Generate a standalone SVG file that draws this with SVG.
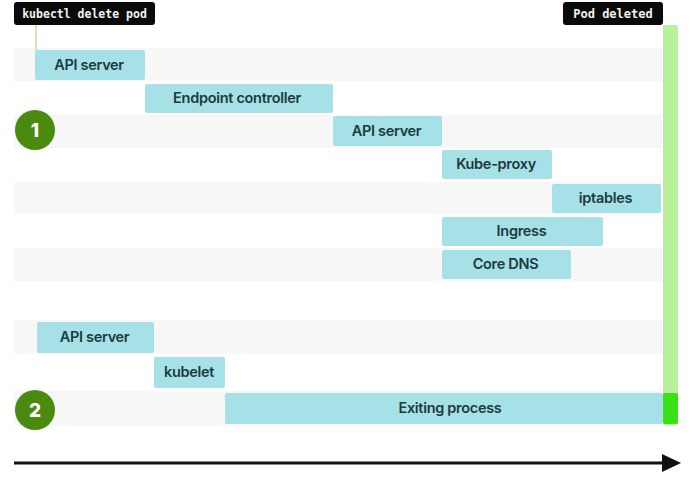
<svg xmlns="http://www.w3.org/2000/svg" width="697" height="480" viewBox="0 0 697 480">
<style>
.band{fill:#f7f7f7}
.box{fill:#a6e1e8}
.lbl{font-family:Inter,"Noto Sans","Liberation Sans",sans-serif;font-weight:600;font-size:14.5px;fill:#1d3a3e;text-anchor:middle;letter-spacing:-0.3px}
.tag{fill:#0a0a0a}
.mono{font-family:"DejaVu Sans Mono","Liberation Mono",monospace;font-weight:bold;font-size:11.5px;fill:#f2f2f2;text-anchor:middle}
.num{fill:#4a8a0f}
.numt{font-family:Inter,"Noto Sans","Liberation Sans",sans-serif;font-weight:800;font-size:19px;fill:#ffffff;text-anchor:middle}
</style>
<rect width="697" height="480" fill="#ffffff"/>
<g id="bands">
<rect class="band" x="14" y="48" width="648" height="33"/>
<rect class="band" x="14" y="115" width="648" height="33"/>
<rect class="band" x="14" y="182" width="648" height="32"/>
<rect class="band" x="14" y="248" width="648" height="33"/>
<rect class="band" x="14" y="320" width="648" height="34"/>
<rect class="band" x="14" y="391" width="648" height="35"/>
</g>
<g id="pod-deleted-bar">
<rect x="663" y="25" width="15" height="400" rx="2" fill="#b5f29b"/>
<line x1="663.5" y1="26" x2="663.5" y2="393" stroke="#e6d6a6" stroke-width="1"/>
<rect x="663" y="393" width="15" height="31" rx="2" fill="#3be016"/>
</g>
<g id="connectors">
<line x1="36" y1="25" x2="36" y2="50" stroke="#e2c487" stroke-width="1.2"/>
<line x1="14" y1="463" x2="666" y2="463" stroke="#111111" stroke-width="3"/>
<polygon points="662,454 681,463 662,472" fill="#111111"/>
</g>
<g id="kubectl-delete-pod">
<rect class="tag" x="14" y="2" width="141" height="23" rx="3"/>
<text class="mono" x="84.5" y="17.5">kubectl delete pod</text>
</g>
<g id="pod-deleted">
<rect class="tag" x="563" y="2" width="100" height="23" rx="3"/>
<text class="mono" x="613" y="17.5" style="font-size:12px">Pod deleted</text>
</g>
<g id="api-server-1">
<rect class="box" x="35" y="50" width="110" height="30" rx="2"/>
<text class="lbl" x="89" y="69.5">API server</text>
</g>
<g id="endpoint-controller">
<rect class="box" x="145" y="84" width="188" height="29" rx="2"/>
<text class="lbl" x="237" y="103">Endpoint controller</text>
</g>
<g id="api-server-2">
<rect class="box" x="333" y="116" width="109" height="30" rx="2"/>
<text class="lbl" x="386.5" y="135.5">API server</text>
</g>
<g id="kube-proxy">
<rect class="box" x="442" y="150" width="110" height="29" rx="2"/>
<text class="lbl" x="496" y="169">Kube-proxy</text>
</g>
<g id="iptables">
<rect class="box" x="552" y="184" width="109" height="29" rx="2"/>
<text class="lbl" x="605.5" y="203">iptables</text>
</g>
<g id="ingress">
<rect class="box" x="442" y="217" width="161" height="29" rx="2"/>
<text class="lbl" x="521.5" y="236">Ingress</text>
</g>
<g id="core-dns">
<rect class="box" x="442" y="250" width="129" height="29" rx="2"/>
<text class="lbl" x="505.5" y="269">Core DNS</text>
</g>
<g id="api-server-3">
<rect class="box" x="37" y="322" width="117" height="31" rx="2"/>
<text class="lbl" x="94.5" y="342">API server</text>
</g>
<g id="kubelet">
<rect class="box" x="154" y="357" width="71" height="31" rx="2"/>
<text class="lbl" x="189" y="377">kubelet</text>
</g>
<g id="exiting-process">
<rect class="box" x="225" y="393" width="438" height="31" rx="2"/>
<text class="lbl" x="450" y="412.5">Exiting process</text>
</g>
<g id="step-1">
<circle class="num" cx="35" cy="130" r="20"/>
<text class="numt" x="35" y="137">1</text>
</g>
<g id="step-2">
<circle class="num" cx="35" cy="410" r="20"/>
<text class="numt" x="35" y="417">2</text>
</g>
</svg>
